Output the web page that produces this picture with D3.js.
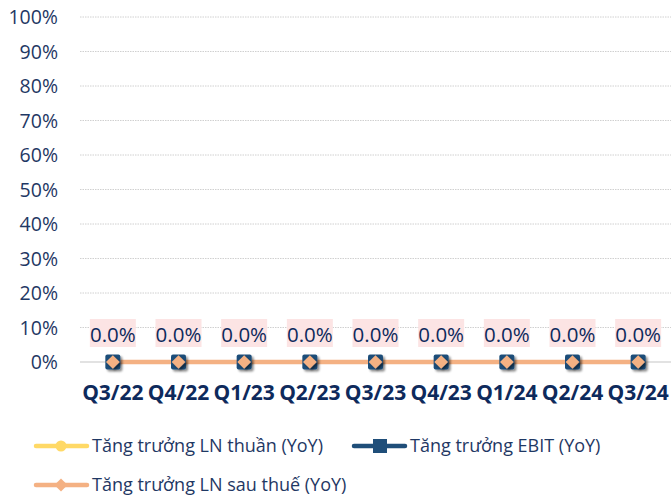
<!DOCTYPE html>
<html><head><meta charset="utf-8">
<script src="https://cdn.jsdelivr.net/npm/d3@7"></script>
<style>body{margin:0;background:#fff}svg{display:block;font-family:"Open Sans",sans-serif}</style>
</head><body>
<svg id="c" width="671" height="499"></svg>
<script>
const categories = ["Q3/22","Q4/22","Q1/23","Q2/23","Q3/23","Q4/23","Q1/24","Q2/24","Q3/24"];
const lnThuan = [0,0,0,0,0,0,0,0,0];
const ebit = [0,0,0,0,0,0,0,0,0];
const lnSauThue = [0,0,0,0,0,0,0,0,0];
const yTicks = [0,0.1,0.2,0.3,0.4,0.5,0.6,0.7,0.8,0.9,1.0];
const seriesNames = ["Tăng trưởng LN thuần (YoY)","Tăng trưởng EBIT (YoY)","Tăng trưởng LN sau thuế (YoY)"];

const svg = d3.select("#c");
const navy = "#1f3864", dark="#0e2a5c";
const cYellow="#ffd966", cBlue="#1f4e79", cOrange="#f4b183";
const x = d3.scaleBand().domain(categories).range([80,671]);
const y = d3.scaleLinear().domain([0,1]).range([362,17]);
const defs = svg.append("defs");
const f = defs.append("filter").attr("id","sh").attr("x","-50%").attr("y","-50%").attr("width","200%").attr("height","200%");
f.append("feDropShadow").attr("dx",2).attr("dy",2).attr("stdDeviation",1.2).attr("flood-color","#000").attr("flood-opacity",0.45);

// grid
svg.append("g").selectAll("line").data(yTicks.filter(d=>d>0)).join("line")
 .attr("x1",80).attr("x2",671).attr("y1",d=>y(d)).attr("y2",d=>y(d))
 .attr("stroke","#d0d0d0").attr("stroke-dasharray","1.5,1");
svg.append("line").attr("x1",80).attr("x2",671).attr("y1",y(0)).attr("y2",y(0)).attr("stroke","#d9d9d9").attr("stroke-width",1.5);

// y axis
const ya = svg.append("g").attr("transform","translate(58,0)").call(d3.axisLeft(y).tickValues(yTicks).tickFormat(d3.format(".0%")).tickSize(0).tickPadding(0));
ya.select(".domain").remove();
ya.selectAll("text").attr("font-size",19.5).attr("fill",navy).attr("font-family","'Open Sans',sans-serif").attr("dy","0.35em");

// x axis
const xa = svg.append("g").attr("transform","translate(0,"+(y(0))+")").call(d3.axisBottom(x).tickSize(0).tickPadding(38));
xa.select(".domain").remove();
xa.selectAll("text").attr("font-size",21).attr("font-weight","bold").attr("fill",dark).attr("font-family","'Open Sans',sans-serif").attr("dy","0");

const cx = c=>x(c)+x.bandwidth()/2;
const line = d3.line().x((d,i)=>cx(categories[i])).y(d=>y(d));
svg.append("path").datum(lnThuan).attr("d",line).attr("fill","none").attr("stroke",cYellow).attr("stroke-width",3);
svg.append("path").datum(ebit).attr("d",line).attr("fill","none").attr("stroke",cBlue).attr("stroke-width",3);
svg.append("path").datum(lnSauThue).attr("d",line).attr("fill","none").attr("stroke",cOrange).attr("stroke-width",4.5);

// markers
svg.append("g").selectAll("circle").data(lnThuan).join("circle").attr("cx",(d,i)=>cx(categories[i])).attr("cy",d=>y(d)).attr("r",5).attr("fill",cYellow);
svg.append("g").selectAll("rect").data(ebit).join("rect").attr("x",(d,i)=>cx(categories[i])-7.5).attr("y",d=>y(d)-7.5).attr("width",15).attr("height",15).attr("rx",2).attr("fill",cBlue).attr("filter","url(#sh)");
svg.append("g").selectAll("path").data(lnSauThue).join("path").attr("d",d3.symbol(d3.symbolDiamond2,120)).attr("transform",(d,i)=>`translate(${cx(categories[i])},${y(d)})`).attr("fill",cOrange).attr("filter","url(#sh)");

// labels
const lg = svg.append("g").selectAll("g").data(lnSauThue).join("g").attr("transform",(d,i)=>`translate(${cx(categories[i])},${y(d)-29})`);
lg.append("rect").attr("x",-23).attr("y",-14).attr("width",46).attr("height",28).attr("fill","#fce4e4");
lg.append("text").attr("text-anchor","middle").attr("dy","0.35em").attr("y",2).attr("font-size",20.5).attr("fill",dark).text(d=>d3.format(".1%")(d));

// legend
const leg = [
 {name:seriesNames[0],c:cYellow,x:34,y:446,m:"circle"},
 {name:seriesNames[1],c:cBlue,x:352,y:446,m:"square"},
 {name:seriesNames[2],c:cOrange,x:34,y:485,m:"diamond"}];
const L = svg.append("g").selectAll("g").data(leg).join("g").attr("transform",d=>`translate(${d.x},${d.y})`);
L.append("line").attr("x1",2).attr("x2",53).attr("stroke",d=>d.c).attr("stroke-width",4.5).attr("stroke-linecap","round");
L.each(function(d){
 const g=d3.select(this);
 if(d.m==="circle") g.append("circle").attr("cx",27).attr("r",5.5).attr("fill",d.c);
 else if(d.m==="square") g.append("rect").attr("x",21).attr("y",-7).attr("width",14).attr("height",14).attr("fill",d.c);
 else g.append("path").attr("d",d3.symbol(d3.symbolDiamond2,110)).attr("transform","translate(27,0)").attr("fill",d.c);
});
L.append("text").attr("x",58).attr("dy","0.35em").attr("font-size",18).attr("fill",navy).text(d=>d.name);
</script>
</body></html>
